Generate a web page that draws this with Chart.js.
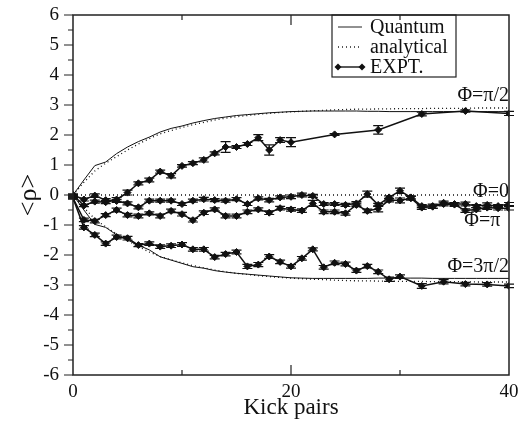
<!DOCTYPE html>
<html>
<head>
<meta charset="utf-8">
<script src="https://cdn.jsdelivr.net/npm/chart.js@4"></script>
<style>
  html, body { margin: 0; padding: 0; background: #fff; }
</style>
</head>
<body>
<canvas id="graph" width="529" height="422"></canvas>
<script>
// theory curves, one value per kick pair
const kTheory = [0,1,2,3,4,5,6,7,8,9,10,11,12,13,14,15,16,17,18,19,20,21,22,23,24,25,26,27,28,29,30,31,32,33,34,35,36,37,38,39,40];
const quantumHalfPi = [0,0.5,0.98,1.1,1.38,1.6,1.78,1.93,2.1,2.22,2.3,2.4,2.48,2.55,2.6,2.65,2.68,2.71,2.74,2.76,2.78,2.79,2.8,2.8,2.8,2.8,2.8,2.79,2.79,2.78,2.78,2.78,2.78,2.78,2.78,2.78,2.78,2.78,2.78,2.78,2.78];
const analyticHalfPi = [0,0.42,0.8,1.06,1.28,1.5,1.7,1.88,2.04,2.15,2.25,2.34,2.42,2.5,2.56,2.61,2.65,2.69,2.72,2.75,2.77,2.79,2.81,2.82,2.84,2.85,2.86,2.86,2.87,2.87,2.88,2.88,2.88,2.89,2.89,2.89,2.89,2.9,2.9,2.9,2.9];
const quantumThreeHalfPi = [0,-0.5,-0.98,-1.08,-1.33,-1.5,-1.67,-1.83,-2.06,-2.17,-2.28,-2.39,-2.44,-2.52,-2.57,-2.61,-2.64,-2.67,-2.7,-2.73,-2.76,-2.77,-2.78,-2.78,-2.78,-2.78,-2.78,-2.78,-2.77,-2.77,-2.77,-2.77,-2.77,-2.78,-2.78,-2.78,-2.78,-2.78,-2.78,-2.78,-2.78];
const analyticThreeHalfPi = [0,-0.42,-0.8,-1.06,-1.3,-1.52,-1.72,-1.9,-2.05,-2.16,-2.26,-2.35,-2.43,-2.5,-2.56,-2.61,-2.65,-2.69,-2.72,-2.75,-2.77,-2.79,-2.81,-2.82,-2.84,-2.85,-2.86,-2.86,-2.87,-2.87,-2.88,-2.88,-2.88,-2.89,-2.89,-2.89,-2.89,-2.9,-2.9,-2.9,-2.9];
const kZeroLine = [0, 40];
const analyticZero = [0, 0];

// experiment
const kAll = [0,1,2,3,4,5,6,7,8,9,10,11,12,13,14,15,16,17,18,19,20,21,22,23,24,25,26,27,28,29,30,31,32,33,34,35,36,37,38,39,40];
const exptZero = [0,-0.15,-0.02,-0.17,-0.2,-0.28,-0.41,-0.19,-0.19,-0.19,-0.3,-0.19,-0.14,-0.17,-0.19,-0.14,-0.3,-0.11,-0.17,-0.08,-0.06,0,-0.03,-0.3,-0.3,-0.33,-0.28,0.03,-0.33,-0.08,0.14,-0.08,-0.37,-0.37,-0.26,-0.3,-0.3,-0.37,-0.33,-0.37,-0.3];
const errZero = [0.03,0.05,0.06,0.05,0.05,0.05,0.05,0.05,0.05,0.05,0.05,0.05,0.06,0.05,0.05,0.05,0.05,0.05,0.06,0.05,0.06,0.06,0.05,0.05,0.05,0.05,0.06,0.1,0.05,0.05,0.09,0.05,0.05,0.07,0.06,0.05,0.06,0.05,0.07,0.05,0.05];
const exptPi = [-0.1,-0.83,-0.87,-0.67,-0.5,-0.67,-0.7,-0.61,-0.7,-0.53,-0.64,-0.84,-0.59,-0.48,-0.7,-0.7,-0.56,-0.48,-0.59,-0.44,-0.48,-0.52,-0.28,-0.56,-0.56,-0.61,-0.33,-0.53,-0.46,-0.17,-0.18,-0.11,-0.42,-0.39,-0.3,-0.32,-0.52,-0.48,-0.42,-0.44,-0.44];
const errPi = [0.03,0.06,0.06,0.05,0.06,0.06,0.06,0.05,0.06,0.06,0.06,0.06,0.06,0.05,0.06,0.06,0.06,0.05,0.06,0.06,0.06,0.06,0.1,0.06,0.06,0.06,0.06,0.06,0.1,0.06,0.08,0.06,0.06,0.06,0.06,0.06,0.06,0.06,0.06,0.06,0.06];
const kHalfPi = [0,1,2,3,4,5,6,7,8,9,10,11,12,13,14,15,16,17,18,19,20,24,28,32,36,40];
const exptHalfPi = [0,-0.35,-0.22,-0.24,-0.15,0.08,0.39,0.5,0.78,0.64,0.97,1.06,1.17,1.39,1.6,1.6,1.7,1.91,1.5,1.83,1.76,2.02,2.17,2.7,2.8,2.72];
const errHalfPi = [0.03,0.04,0.05,0.05,0.06,0.08,0.05,0.06,0.05,0.07,0.04,0.05,0.07,0.05,0.18,0.05,0.05,0.1,0.17,0.08,0.15,0.03,0.14,0.06,0.04,0.07];
const kThreeHalfPi = [0,1,2,3,4,5,6,7,8,9,10,11,12,13,14,15,16,17,18,19,20,21,22,23,24,25,26,27,28,29,30,32,34,36,38,40];
const exptThreeHalfPi = [-0.1,-1.08,-1.33,-1.62,-1.4,-1.44,-1.67,-1.62,-1.72,-1.69,-1.65,-1.81,-1.81,-2.07,-1.97,-1.9,-2.38,-2.32,-2.05,-2.23,-2.38,-2.11,-1.81,-2.41,-2.26,-2.3,-2.52,-2.37,-2.56,-2.81,-2.72,-3.03,-2.89,-2.97,-2.98,-3.03];
const errThreeHalfPi = [0.03,0.06,0.06,0.06,0.06,0.06,0.05,0.06,0.06,0.06,0.06,0.06,0.06,0.06,0.06,0.06,0.07,0.07,0.06,0.06,0.06,0.06,0.05,0.06,0.06,0.06,0.06,0.06,0.06,0.07,0.06,0.08,0.07,0.06,0.06,0.06];

const phiLabels = [
  { text: "Φ=π/2", x: 40, y: 3.3 },
  { text: "Φ=0", x: 40, y: 0.1 },
  { text: "Φ=π", x: 39.2, y: -0.85 },
  { text: "Φ=3π/2", x: 40, y: -2.4 },
];

const serif = "'Liberation Serif', 'Times New Roman', serif";
const ink = "#111";

function pts(xs, ys) {
  return xs.map((k, i) => ({ x: k, y: ys[i] }));
}

function theory(data, dotted) {
  return {
    data: data,
    borderColor: ink,
    borderWidth: dotted ? 1.3 : 1,
    borderDash: dotted ? [1, 3] : [],
    pointRadius: 0,
    tension: 0,
  };
}

function expt(data, errors) {
  return {
    data: data,
    errors: errors,
    borderColor: ink,
    borderWidth: 1.5,
    pointStyle: "rectRot",
    pointRadius: 3.5,
    pointBackgroundColor: ink,
    pointBorderColor: ink,
    pointBorderWidth: 1,
    tension: 0,
  };
}

const errorBars = {
  id: "errorBars",
  afterDatasetsDraw(chart) {
    const ctx = chart.ctx;
    const y = chart.scales.y;
    ctx.save();
    ctx.strokeStyle = ink;
    ctx.lineWidth = 1.2;
    chart.data.datasets.forEach((ds, di) => {
      if (!ds.errors) return;
      const meta = chart.getDatasetMeta(di);
      meta.data.forEach((p, i) => {
        const e = ds.errors[i];
        const v = ds.data[i].y;
        const top = y.getPixelForValue(v + e);
        const bot = y.getPixelForValue(v - e);
        ctx.beginPath();
        ctx.moveTo(p.x, top); ctx.lineTo(p.x, bot);
        ctx.moveTo(p.x - 5, top); ctx.lineTo(p.x + 5, top);
        ctx.moveTo(p.x - 5, bot); ctx.lineTo(p.x + 5, bot);
        ctx.stroke();
      });
    });
    ctx.restore();
  }
};

const frame = {
  id: "frame",
  afterDraw(chart) {
    const { ctx, chartArea: a, scales: { x, y } } = chart;
    ctx.save();
    ctx.strokeStyle = "#222";
    ctx.lineWidth = 1.5;
    ctx.strokeRect(a.left, a.top, a.right - a.left, a.bottom - a.top);
    ctx.lineWidth = 1.2;
    ctx.beginPath();
    for (let v = -6; v <= 6; v += 0.5) {
      const py = y.getPixelForValue(v);
      const len = Number.isInteger(v) ? 9 : 5;
      ctx.moveTo(a.left - len, py); ctx.lineTo(a.left, py);
    }
    for (let v = 10; v <= 30; v += 10) {
      const px = x.getPixelForValue(v);
      const len = v === 20 ? 10 : 5;
      ctx.moveTo(px, a.bottom); ctx.lineTo(px, a.bottom - len);
      ctx.moveTo(px, a.top); ctx.lineTo(px, a.top + len);
    }
    ctx.stroke();

    // legend box
    const lx = a.left + 259, ly = a.top, lw = 124, lh = 62;
    ctx.lineWidth = 1.2;
    ctx.strokeRect(lx, ly, lw, lh);
    ctx.fillStyle = ink;
    ctx.font = "20px " + serif;
    ctx.textBaseline = "middle";
    ctx.textAlign = "left";
    const rows = ["Quantum", "analytical", "EXPT."];
    rows.forEach((t, i) => {
      const ry = ly + 12 + i * 20;
      ctx.beginPath();
      ctx.lineWidth = i === 1 ? 1.3 : (i === 2 ? 1.5 : 1);
      ctx.setLineDash(i === 1 ? [1, 3] : []);
      ctx.moveTo(lx + 6, ry); ctx.lineTo(lx + 30, ry);
      ctx.stroke();
      ctx.setLineDash([]);
      if (i === 2) {
        [lx + 6, lx + 30].forEach(px => {
          ctx.beginPath();
          ctx.moveTo(px, ry - 3.5); ctx.lineTo(px + 3.5, ry);
          ctx.lineTo(px, ry + 3.5); ctx.lineTo(px - 3.5, ry);
          ctx.closePath(); ctx.fill();
        });
      }
      ctx.fillText(t, lx + 38, ry + 1);
    });

    // phase labels
    ctx.font = "20px " + serif;
    ctx.textAlign = "right";
    phiLabels.forEach(l => {
      ctx.fillText(l.text, x.getPixelForValue(l.x), y.getPixelForValue(l.y));
    });
    ctx.restore();
  }
};

new Chart(document.getElementById("graph").getContext("2d"), {
  type: "line",
  data: {
    datasets: [
      theory(pts(kTheory, quantumHalfPi), false),
      theory(pts(kTheory, analyticHalfPi), true),
      theory(pts(kTheory, quantumThreeHalfPi), false),
      theory(pts(kTheory, analyticThreeHalfPi), true),
      theory(pts(kZeroLine, analyticZero), true),
      expt(pts(kHalfPi, exptHalfPi), errHalfPi),
      expt(pts(kAll, exptZero), errZero),
      expt(pts(kAll, exptPi), errPi),
      expt(pts(kThreeHalfPi, exptThreeHalfPi), errThreeHalfPi),
    ]
  },
  options: {
    responsive: false,
    animation: false,
    layout: { padding: { top: 15, right: 20, left: 0, bottom: 0 } },
    plugins: { legend: { display: false }, tooltip: { enabled: false } },
    scales: {
      x: {
        type: "linear", min: 0, max: 40,
        afterFit(s) { s.height = 47; },
        grid: { display: false, drawTicks: false },
        border: { display: false },
        ticks: { stepSize: 20, padding: 6, maxRotation: 0, color: ink, font: { family: serif, size: 19 } },
        title: { display: true, text: "Kick pairs", color: ink, font: { family: serif, size: 23 }, padding: { top: 0, bottom: 0 } }
      },
      y: {
        min: -6, max: 6,
        afterFit(s) { s.width = 73; s.paddingTop = 0; s.paddingBottom = 0; },
        grid: { display: false, drawTicks: false },
        border: { display: false },
        ticks: { stepSize: 1, padding: 14, color: ink, font: { family: serif, size: 19 } },
        title: { display: true, text: "<ρ>", color: ink, font: { family: serif, size: 26 }, padding: { top: 14, bottom: 0 } }
      }
    }
  },
  plugins: [errorBars, frame]
});
</script>
</body>
</html>
